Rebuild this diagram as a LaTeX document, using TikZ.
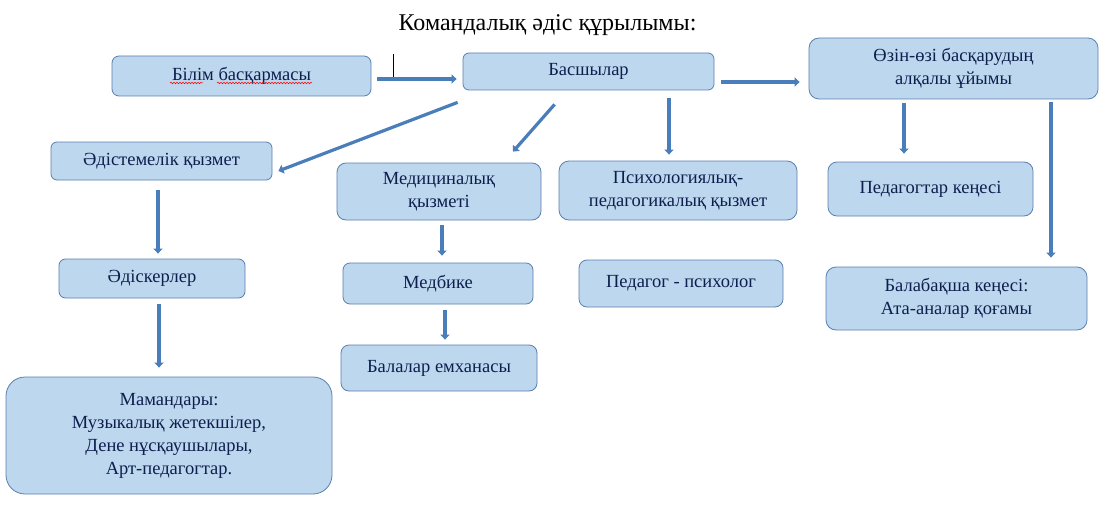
\documentclass[tikz,border=0pt]{standalone}
\usepackage{fontspec}
\setmainfont{Liberation Serif}
\usetikzlibrary{arrows.meta,calc,decorations.pathmorphing}
\definecolor{boxfill}{HTML}{BDD7EE}
\definecolor{boxline}{HTML}{5B7FB0}
\definecolor{boxtext}{HTML}{0E1F4E}
\definecolor{arrowcol}{HTML}{4A7EBB}
\tikzset{
  box/.style={draw=boxline, fill=boxfill, line width=0.8pt, rectangle, inner sep=0pt,
    text=boxtext, align=center, font=\fontsize{18.5}{22.5}\selectfont},
  conn/.style={draw=arrowcol, line width=3.2pt, -{Triangle[length=5pt,width=9pt]}},
  titletext/.style={font=\fontsize{24}{28}\selectfont, text=black, inner sep=0pt},
  spell/.style={draw=red, line width=0.5pt, decorate,
    decoration={snake, amplitude=0.8pt, segment length=3pt}}
}
\begin{document}
\begin{tikzpicture}[x=1pt, y=-1pt]
\useasboundingbox (0,0) rectangle (1115,524);
\node[titletext] (title) at (547.5,25) {Командалық әдіс құрылымы:};

\node[box, minimum width=259pt, minimum height=40pt, rounded corners=7pt] (bil) at (241.5,76) {Білім басқармасы};
\node[box, minimum width=251pt, minimum height=37pt, rounded corners=6pt] (bas) at (588.5,71.5) {Басшылар};
\node[box, minimum width=289pt, minimum height=61pt, rounded corners=10pt] (ozin) at (953.5,68.5) {Өзін-өзі басқарудың\\алқалы ұйымы};
\node[box, minimum width=221pt, minimum height=38pt, rounded corners=6pt] (adis) at (161.5,161) {Әдістемелік қызмет};
\node[box, minimum width=204pt, minimum height=57pt, rounded corners=9pt] (med) at (439,191.5) {Медициналық\\қызметі};
\node[box, minimum width=238pt, minimum height=59pt, rounded corners=10pt] (psy) at (678,190.5) {Психологиялық-\\педагогикалық қызмет};
\node[box, minimum width=205pt, minimum height=54pt, rounded corners=9pt] (pedk) at (930.5,189) {Педагогтар кеңесі};
\node[box, minimum width=186pt, minimum height=39pt, rounded corners=6.5pt] (adk) at (152,278.5) {Әдіскерлер};
\node[box, minimum width=190pt, minimum height=41pt, rounded corners=7pt] (medb) at (438,283.5) {Медбике};
\node[box, minimum width=204pt, minimum height=47pt, rounded corners=8pt] (pp) at (681,283.5) {Педагог - психолог};
\node[box, minimum width=261pt, minimum height=63pt, rounded corners=10pt] (bala) at (956.5,298.5) {Балабақша кеңесі:\\Ата-аналар қоғамы};
\node[box, minimum width=196pt, minimum height=46pt, rounded corners=8pt] (emh) at (439,368) {Балалар емханасы};
\node[box, minimum width=326pt, minimum height=117pt, rounded corners=19pt, font=\fontsize{18.5}{23}\selectfont] (mam) at (169,435.5) {Мамандары:\\Музыкалық жетекшілер,\\Дене нұсқаушылары,\\Арт-педагогтар.};

% spell-check underlines
\draw[spell] (170,83) -- (203,83);
\draw[spell] (217,83) -- (312,83);

% thin cursor line
\draw[black, line width=0.6pt] (393,54) -- (393,79);

% connectors
\draw[conn] ($(bil.east)+(6,3)$) -- ($(bas.west)+(-6,7.5)$);
\draw[conn] ($(bas.south west)+(-5,12)$) -- ($(adis.east)+(6,10)$);
\draw[conn] ($(bas.south west)+(92,14)$) -- ($(med.north)+(74,-11)$);
\draw[conn] ($(bas.south)+(80.5,8)$) -- ($(psy.north)+(-9,-6)$);
\draw[conn] ($(bas.east)+(7,10.5)$) -- ($(ozin.west)+(-9,13.5)$);
\draw[conn] ($(ozin.south)+(-49.5,4)$) -- ($(pedk.north)+(-26.5,-8)$);
\draw[conn] ($(ozin.south)+(97.5,3)$) -- ($(bala.north)+(94.5,-9)$);
\draw[conn] ($(adis.south)+(-3.5,10)$) -- ($(adk.north)+(6,-5)$);
\draw[conn] ($(adk.south)+(7,6)$) -- ($(mam.north)+(-10,-9)$);
\draw[conn] ($(med.south)+(3,5)$) -- ($(medb.north)+(4,-7)$);
\draw[conn] ($(medb.south)+(7,6)$) -- ($(emh.north)+(6,-5)$);
\end{tikzpicture}
\end{document}
